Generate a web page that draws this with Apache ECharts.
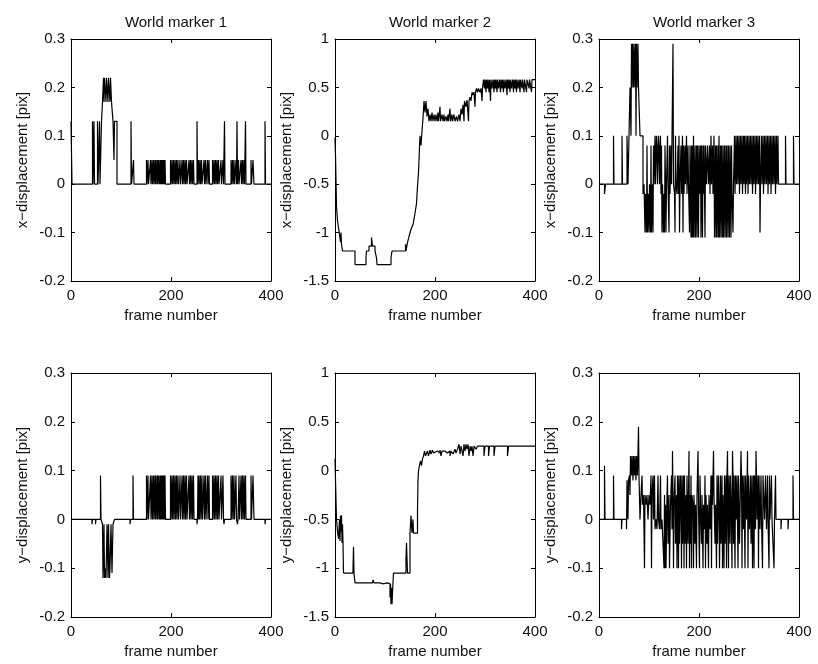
<!DOCTYPE html>
<html><head><meta charset="utf-8">
<script src="https://cdn.jsdelivr.net/npm/echarts@6/dist/echarts.min.js"></script>
<style>html,body{margin:0;padding:0;background:#fff}#c{width:818px;height:664px}</style>
</head><body><div id="c"></div>
<script>
const titles = ['World marker 1', 'World marker 2', 'World marker 3'];
const xAxisName = 'frame number';
const yNames = ['x\u2212displacement [pix]', 'y\u2212displacement [pix]'];
const xTicks = [0, 200, 400];
const yTicksSmall = [-0.2, -0.1, 0, 0.1, 0.2, 0.3];
const yTicksLarge = [-1.5, -1, -0.5, 0, 0.5, 1];

// x-displacement, world marker 1  [frame, value] change points
const xDisp1 = [[0,0.13],[2,0],[43,0.13],[44,0],[46,0.13],[47,0],[53,0.13],[54,0],[57,0.13],[58,0],[61,0.13],[63,0.17],[65,0.22],[66,0.17],[67,0.22],[70,0.17],[71,0.22],[74,0.17],[75,0.22],[78,0.17],[79,0.22],[81,0.17],[84,0.13],[86,0.05],[87,0.13],[92,0],[120,0.13],[121,0],[125,0.05],[126,0],
[151,0.05],[152,0],[154,0.05],[155,0],[159,0.05],[160,0],[162,0.05],[163,0],[165,0.05],[166,0],[168,0.05],[169,0],[170,0.05],[172,0],[173,0.05],[174,0],[175,0.05],[177,0],[178,0.05],[179,0],[180,0.05],[181,0],[182,0.05],[183,0],[184,0.05],[185,0],[186,0.05],[187,0],[188,0.05],[189,0],[199,0.05],[200,0],[202,0.05],[203,0],[205,0.05],[206,0],[208,0.05],[209,0],[211,0.05],[212,0],[214,0.05],[215,0],[218,0.05],[219,0],[222,0.05],[223,0],[225,0.05],[226,0],[228,0.05],[229,0],[231,0.05],[232,0],[236,0.05],[237,0],[239,0.05],[240,0],[242,0.05],[243,0],[245,0.05],[246,0],[252,0.13],[253,0],[255,0.05],[256,0],[258,0.05],[259,0],[261,0.05],[262,0],[266,0.05],[267,0],[269,0.05],[270,0],[273,0.05],[274,0],[276,0.05],[277,0],[283,0.05],[284,0],[286,0.05],[287,0],[289,0.05],[290,0],[292,0.05],[293,0],[295,0.05],[296,0],[300,0.05],[301,0],[304,0.05],[305,0],[307,0.13],[308,0],[320,0.05],[321,0],[323,0.05],[324,0],[326,0.05],[327,0],[330,0.05],[331,0],[332,0.13],[333,0],[335,0.05],[336,0],[340,0.05],[341,0],[343,0.05],[344,0],[346,0.05],[347,0],[349,0.13],[350,0],[360,0.05],[361,0],[364,0.05],[366,0],[388,0.13],[389,0],[400,0]];

// x-displacement, world marker 2
const xDisp2 = [[0,-0.02],[1,-0.2],[2,-0.45],[3,-0.73],[5,-0.88],[7,-0.95],[9,-1.02],[11,-1.1],[12,-1.0],[13,-1.12],[15,-1.19],[40,-1.33],[62,-1.26],[63,-1.19],[68,-1.14],[73,-1.05],[75,-1.14],[80,-1.19],[83,-1.26],[84,-1.33],[112,-1.26],[114,-1.19],[141,-1.12],[142,-1.19],[145,-1.1],[149,-1.02],[153,-0.95],[156,-0.92],[160,-0.8],[163,-0.7],[165,-0.52],[167,-0.38],[169,-0.12],[170,0.0],[172,-0.1],[174,0.05],[176,0.18],[178,0.36],[180,0.24],[182,0.36],[184,0.2],[186,0.28],[188,0.15],
[190,0.22],[192,0.15],[194,0.24],[196,0.15],[198,0.22],[200,0.15],[202,0.22],[204,0.15],[206,0.24],[207,0.15],[210,0.3],[211,0.15],[214,0.22],[216,0.15],[218,0.22],[219,0.15],[222,0.2],[224,0.15],[226,0.22],[227,0.15],[230,0.28],[231,0.15],[234,0.22],[235,0.15],[238,0.22],[240,0.15],[243,0.2],[245,0.15],[248,0.22],[250,0.15],[252,0.28],[254,0.22],[256,0.32],[258,0.15],[259,0.36],[262,0.3],[264,0.37],[267,0.15],[268,0.36],[270,0.4],[272,0.36],[274,0.45],[276,0.42],[278,0.45],[280,0.3],[281,0.45],[283,0.49],[285,0.45],[287,0.49],[290,0.45],[292,0.49],[294,0.36],[295,0.49],[297,0.58],[299,0.49],[300,0.58],[302,0.45],[303,0.58],[305,0.49],[306,0.58],[308,0.45],[309,0.58],[311,0.36],[312,0.58],[314,0.49],[316,0.58],[318,0.45],[319,0.58],[321,0.49],[322,0.58],[324,0.45],[325,0.58],[327,0.49],[329,0.58],[331,0.45],[332,0.58],[334,0.49],[335,0.58],[337,0.45],[338,0.58],[340,0.49],[342,0.58],[344,0.42],[345,0.58],[347,0.49],[348,0.58],[350,0.45],[351,0.58],[353,0.49],[355,0.58],[357,0.45],[358,0.58],[360,0.49],[361,0.58],[363,0.45],[364,0.58],[366,0.49],[368,0.58],[370,0.45],[371,0.58],[374,0.49],[375,0.58],[378,0.45],[379,0.58],[383,0.45],[384,0.58],[388,0.49],[389,0.58],[393,0.45],[394,0.58],[400,0.58]];

// x-displacement, world marker 3
const xDisp3 = [[0,0],[11,-0.02],[13,0],[29,0.1],[30,0],[46,0.1],[47,0],[56,0.1],[58,0],[60,0.1],[62,0.2],[64,0.1],[65,0.29],[66,0.2],[67,0.29],[69,0.2],[70,0.29],[72,0.2],[73,0.29],[74,0.1],[75,0.29],[76,0.2],[78,0.29],[79,0.2],[82,0.1],[86,0.1],[88,-0.02],[90,0],[92,-0.1],[93,-0.02],[95,-0.1],[96,0.08],[97,-0.1],[99,-0.02],[100,-0.1],[101,0],[103,-0.1],[104,0.08],[105,-0.1],[107,0],[108,-0.1],[109,0.08],[110,0],[112,0.1],[113,0],[115,0.1],[116,0.08],[117,0],[119,0.1],[120,0.08],[121,0],[123,0.1],[124,-0.02],[125,0.08],[126,-0.1],[127,0],[129,-0.1],[130,-0.02],[131,-0.1],[132,0.08],[133,0],[134,-0.1],[135,0],[137,0.1],[138,0],[140,-0.1],[141,0.08],[142,-0.02],[144,0.08],[145,0],[148,0.29],[149,0],[151,-0.02],[152,-0.1],[153,0.1],[154,0],[156,-0.02],[158,0.08],[159,-0.02],[160,0.1],[161,-0.1],[162,0],[164,0.08],[165,-0.02],[167,0.1],[168,-0.1],[169,0.08],[170,-0.02],[172,0.08],[173,0],[175,0.1],[176,-0.02],[178,0.08],[179,0],[181,-0.1],[182,0.08],[184,-0.11],[185,0.08],[186,-0.11],[187,0.08],[188,-0.11],[189,0.1],[190,-0.11],[192,0.08],[193,-0.11],[195,0.08],[196,-0.11],[197,0.08],[199,-0.11],[200,0.08],[201,-0.02],[203,0.08],[204,-0.11],[205,0.08],[207,-0.11],[208,0.08],[209,-0.02],[210,0.08],[212,-0.11],[213,0.08],[215,0],[217,0.08],[219,0],[221,0.08],[222,-0.02],[224,0.1],[225,0],[227,0.08],[228,-0.02],[230,0.1],[231,-0.11],[233,0.08],[234,-0.11],[235,0.08],[236,-0.11],[238,0.08],[239,-0.11],[240,0.1],[241,-0.11],[243,0.08],[244,-0.11],[245,0.08],[247,-0.11],[248,0.08],[249,-0.11],[251,0.08],[252,-0.11],[254,0.08],[255,-0.11],[256,0.08],[258,-0.11],[259,0.08],[261,-0.11],[262,0.08],[264,-0.11],[265,0.08],[266,-0.02],[268,-0.1],[269,0],[271,0.1],[272,-0.02],[274,0.1],[275,0],[277,0.1],[278,0],[280,0.1],[281,-0.02],[283,0.1],[284,0],[286,0.1],[287,-0.02],[289,0.1],[290,0],[291,0.1],[293,-0.02],[294,0.1],[295,0],[297,0.1],[298,-0.02],[300,0.1],[301,0],[303,0.1],[304,0],[306,0.1],[307,-0.02],[309,0.1],[310,0],[312,0.1],[313,-0.02],[315,0.1],[316,0],[318,0.1],[319,0],[321,0.1],[322,-0.1],[323,0],[325,0.1],[326,0],[328,0.1],[329,-0.02],[331,0.1],[332,0],[334,0.1],[335,0],[337,0.1],[338,-0.02],[340,0.1],[341,0],[343,0.1],[344,-0.02],[346,0.1],[347,0],[349,0.1],[350,0],[352,0.1],[353,-0.02],[355,0.1],[356,0],[358,0.1],[359,0],[373,0.1],[374,0],[389,0.1],[390,0],[400,0]];

// y-displacement, world marker 1
const yDisp1 = [[0,0],[42,-0.01],[43,0],[49,-0.01],[50,0],[59,0.09],[60,0],[63,-0.01],[64,-0.12],[66,-0.01],[67,-0.12],[68,-0.1],[70,-0.12],[72,-0.01],[74,-0.12],[75,-0.01],[77,-0.12],[78,-0.1],[80,-0.01],[82,-0.11],[84,-0.01],[87,0],[118,-0.01],[119,0],[124,0.09],[125,0],
[151,0.09],[152,0],[154,0.09],[155,0],[159,0.09],[160,0],[162,0.09],[163,0],[165,0.09],[166,0],[168,0.09],[169,0],[170,0.09],[172,0],[173,0.09],[174,0],[175,0.09],[177,0],[178,0.09],[179,0],[180,0.09],[181,0],[182,0.09],[183,0],[184,0.09],[185,0],[186,0.09],[187,0],[188,0.09],[189,0],[199,0.09],[200,0],[202,0.09],[203,0],[205,0.09],[206,0],[208,0.09],[209,0],[211,0.09],[212,0],[214,0.09],[215,0],[218,0.09],[219,0],[222,0.09],[223,0],[225,0.09],[226,0],[228,0.09],[229,0],[231,0.09],[232,0],[236,0.09],[237,0],[239,0.09],[240,0],[242,0.09],[243,0],[245,0.09],[246,0],[252,-0.01],[253,0],[254,0.09],[255,0],[256,0.09],[257,0],[259,0.09],[260,0],[262,0.09],[263,0],[266,0.09],[267,0],[269,0.09],[270,0],[273,0.09],[274,0],[276,0.09],[277,0],[283,0.09],[284,0],[286,0.09],[287,0],[289,0.09],[290,0],[292,0.09],[293,0],[295,0.09],[296,0],[300,0.09],[301,0],[304,0.09],[305,0],[306,-0.01],[307,0],[320,0.09],[321,0],[323,0.09],[324,0],[326,0.09],[327,0],[330,0.09],[331,0],[333,-0.01],[334,0],[336,0.09],[337,0],[340,0.09],[341,0],[343,0.09],[344,0],[346,0.09],[347,0],[349,0.09],[350,0],[360,0.09],[361,0],[364,0.09],[366,0],[388,-0.01],[389,0],[400,0]];

// y-displacement, world marker 2
const yDisp2 = [[0,0.12],[1,-0.1],[2,-0.3],[3,-0.5],[5,-0.62],[7,-0.7],[9,-0.5],[10,-0.72],[11,-0.46],[12,-0.62],[13,-0.46],[14,-0.74],[15,-0.55],[16,-0.74],[17,-1.05],[36,-1.0],[37,-0.78],[38,-1.05],[40,-1.15],[60,-1.13],[62,-1.15],[75,-1.14],[76,-1.12],[78,-1.15],[90,-1.16],[95,-1.15],[105,-1.16],[110,-1.3],[111,-1.16],[112,-1.37],[113,-1.2],[114,-1.37],[115,-1.25],[117,-1.05],[142,-0.9],[143,-0.74],[145,-1.05],[150,-0.64],[152,-0.46],[154,-0.64],[156,-0.5],[157,-0.64],[165,-0.4],[166,-0.1],[167,0.0],[169,0.05],[171,0.1],[173,0.05],[175,0.12],[177,0.15],[179,0.2],[181,0.15],[185,0.2],[187,0.15],[190,0.21],[192,0.17],[195,0.21],[197,0.18],[200,0.2],[205,0.18],[210,0.21],[212,0.15],[214,0.2],[220,0.18],[225,0.2],[230,0.15],[232,0.2],[236,0.17],[240,0.22],[242,0.18],[245,0.22],[248,0.27],[250,0.17],[252,0.25],[254,0.27],[256,0.15],[258,0.27],[260,0.2],[262,0.27],[264,0.22],[266,0.27],[268,0.15],[270,0.25],[272,0.2],[274,0.25],[276,0.15],[278,0.25],[282,0.22],[285,0.25],[298,0.15],[300,0.25],[307,0.15],[309,0.25],[318,0.15],[320,0.25],[345,0.15],[347,0.25],[400,0.25]];

// y-displacement, world marker 3
const yDisp3 = [[0,0],[11,0.11],[12,0],[29,0.09],[30,0],[45,-0.02],[46,0],[55,-0.02],[56,0.08],[58,0],[59,0.08],[61,0.09],[62,0.05],[63,0.13],[65,0.09],[66,0.13],[68,0.08],[69,0.13],[71,0.09],[72,0.13],[74,0.08],[75,0.13],[77,0.09],[79,0.19],[80,0.09],[82,0],[84,0.05],[86,0.09],[87,0.03],[89,0.05],[91,-0.1],[92,0.05],[94,0.03],[96,0.05],[98,0],[100,0.05],[102,0.03],[104,0.09],[105,-0.1],[106,0.05],[108,0.09],[109,0],[111,0.09],[112,-0.02],[114,0],[116,-0.02],[118,0.09],[119,0],[121,-0.02],[123,0.09],[124,-0.02],[126,0],[130,-0.1],[131,0.05],[132,-0.1],[133,0.03],[134,-0.1],[136,0.05],[137,0.09],[138,-0.05],[140,0.05],[141,-0.1],[143,0.03],[145,0.09],[146,-0.02],[147,0.14],[148,0.05],[149,-0.1],[150,0.03],[152,0.09],[153,-0.05],[155,0.05],[156,-0.1],[157,0.09],[158,0.05],[159,-0.1],[160,0.09],[161,-0.05],[163,0.09],[164,0.03],[165,-0.1],[166,0.09],[167,-0.05],[169,0.09],[170,-0.1],[171,0.09],[172,-0.05],[174,0.05],[175,-0.1],[176,0.09],[178,-0.05],[180,0.14],[181,-0.1],[182,0.05],[183,-0.05],[184,0.09],[185,-0.1],[186,0.05],[188,0.03],[189,-0.1],[190,0.05],[192,-0.05],[193,0.03],[195,-0.1],[196,0.05],[198,0.14],[199,0.03],[201,-0.1],[202,0.09],[203,0.03],[205,-0.05],[206,0.05],[208,-0.1],[209,0.03],[211,-0.02],[212,0.09],[213,-0.1],[214,0.05],[216,-0.05],[217,0.03],[219,-0.1],[220,0.05],[222,-0.02],[224,0.09],[225,-0.1],[226,0.09],[227,0.03],[229,0.14],[230,0.05],[232,-0.05],[233,0.03],[235,-0.1],[236,0.09],[237,-0.05],[239,0.09],[240,0.03],[241,-0.1],[243,0.09],[244,-0.05],[246,0.09],[247,-0.1],[248,0.05],[250,-0.1],[251,0.09],[252,-0.05],[254,0.09],[255,-0.1],[256,0.09],[257,0.14],[258,-0.02],[259,-0.1],[260,0.09],[262,-0.05],[263,0.09],[264,0.05],[266,-0.1],[267,0.14],[268,0.09],[269,-0.05],[270,0.09],[272,-0.1],[273,0.09],[275,0],[276,0.09],[278,-0.1],[279,0.09],[281,-0.05],[284,0.14],[285,0.09],[286,-0.1],[287,0.09],[289,-0.02],[290,0.09],[292,-0.1],[293,0.09],[295,0],[297,0.14],[298,-0.1],[299,0.09],[301,-0.02],[303,0.09],[304,-0.05],[306,0.09],[307,-0.1],[308,0],[309,0.09],[310,-0.1],[311,0.09],[313,-0.02],[314,0.14],[315,0.09],[316,0],[318,0.09],[319,-0.1],[320,0.09],[322,-0.02],[324,0.09],[325,0],[327,-0.1],[328,0.09],[330,0.09],[331,0],[333,0.09],[335,-0.02],[337,0.09],[338,0],[340,-0.1],[341,0.09],[342,0],[345,0.09],[346,0],[350,-0.1],[351,0],[353,0.09],[354,0],[364,-0.02],[365,0],[378,-0.02],[379,0],[388,0.09],[389,0],[400,0]];

const panels = [
  {data: xDisp1, ticks: yTicksSmall, name: yNames[0], title: titles[0]},
  {data: xDisp2, ticks: yTicksLarge, name: yNames[0], title: titles[1]},
  {data: xDisp3, ticks: yTicksSmall, name: yNames[0], title: titles[2]},
  {data: yDisp1, ticks: yTicksSmall, name: yNames[1], title: ''},
  {data: yDisp2, ticks: yTicksLarge, name: yNames[1], title: ''},
  {data: yDisp3, ticks: yTicksSmall, name: yNames[1], title: ''}
];

const FONT = 'Liberation Sans';
const lefts = [71, 335, 599];
const tops = [39, 373];
const heights = [242, 244];
const W = 200;

const grid = [], xAxis = [], yAxis = [], series = [], title = [];
const axisLine = {show: true, onZero: false, lineStyle: {color: '#000', width: 1}};
const tick = {show: true, inside: true, length: 4, lineStyle: {color: '#000'}};
const lbl = {color: '#111', fontFamily: FONT, fontSize: 15};

panels.forEach((p, k) => {
  const r = Math.floor(k / 3), c = k % 3;
  grid.push({left: lefts[c], top: tops[r], width: W, height: heights[r], containLabel: false});
  const ymin = p.ticks[0], ymax = p.ticks[p.ticks.length - 1], yint = p.ticks[1] - p.ticks[0];
  const xint = xTicks[1] - xTicks[0];
  xAxis.push({type: 'value', gridIndex: k, position: 'bottom', min: xTicks[0], max: xTicks[xTicks.length - 1], interval: xint,
    axisLine, axisTick: tick, splitLine: {show: false}, axisLabel: Object.assign({margin: 7}, lbl),
    name: xAxisName, nameLocation: 'middle', nameGap: 27, nameTextStyle: lbl});
  xAxis.push({type: 'value', gridIndex: k, position: 'top', min: xTicks[0], max: xTicks[xTicks.length - 1], interval: xint,
    axisLine, axisTick: tick, splitLine: {show: false}, axisLabel: {show: false}});
  yAxis.push({type: 'value', gridIndex: k, position: 'left', min: ymin, max: ymax, interval: yint,
    axisLine, axisTick: tick, splitLine: {show: false}, axisLabel: Object.assign({margin: 6}, lbl),
    name: p.name, nameLocation: 'middle', nameGap: 41, nameTextStyle: lbl});
  yAxis.push({type: 'value', gridIndex: k, position: 'right', min: ymin, max: ymax, interval: yint,
    axisLine, axisTick: tick, splitLine: {show: false}, axisLabel: {show: false}});
  series.push({type: 'line', xAxisIndex: 2 * k, yAxisIndex: 2 * k, data: p.data, step: 'end',
    showSymbol: false, symbol: 'none', lineStyle: {color: '#000', width: 1.2}, animation: false, silent: true});
  if (p.title) {
    title.push({text: p.title, left: lefts[c] + W / 2, top: 10, textAlign: 'center',
      textStyle: {fontFamily: FONT, fontSize: 15, fontWeight: 'normal', color: '#111'}});
  }
});

const chart = echarts.init(document.getElementById('c'), null, {renderer: 'canvas'});
chart.setOption({backgroundColor: '#fff', animation: false, title, grid, xAxis, yAxis, series});
</script>
</body></html>
